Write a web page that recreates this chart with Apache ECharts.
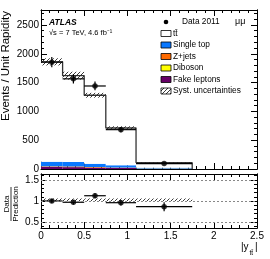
<!DOCTYPE html>
<html><head><meta charset="utf-8">
<script src="https://cdn.jsdelivr.net/npm/echarts@6/dist/echarts.min.js"></script>
<style>html,body{margin:0;padding:0;background:#fff}#c{width:270px;height:259px}</style>
</head><body><div id="c"></div>
<script>
// ---- data ----
const binEdges = [0, 0.25, 0.5, 0.75, 1.1, 1.75];
const dataValues = [1855, 1565, 1441, 683, 94];
const dataErrors = [88, 80, 76, 45, 12];
const ttbar = [1734, 1498, 1190, 647, 86];
const singleTop = [80, 78, 55, 40, 14];
const zJets = [8, 8, 7, 5, 2];
const diboson = [3, 3, 3, 2, 1];
const fakeLeptons = [35, 33, 25, 18, 6];
const systUnc = [62, 68, 42, 30, 8];
const ratioValues = [1.0, 0.97, 1.125, 0.96, 0.865];
const ratioErrors = [0.048, 0.05, 0.06, 0.065, 0.105];
const ratioBandLow = [0.985, 0.985, 0.985, 0.985, 0.985];
const ratioBandHigh = [1.06, 1.06, 1.06, 1.06, 1.06];
const ratioRefLines = [0.5, 1, 1.5];
const xTicks = [0, 0.5, 1, 1.5, 2, 2.5];
const mainYTicks = [0, 500, 1000, 1500, 2000, 2500];
const ratioYTicks = [0.5, 1, 1.5];
const legendLabels = ['Data 2011', 'tt\u0304', 'Single top', 'Z+jets', 'Diboson', 'Fake leptons', 'Syst. uncertainties'];

const FONT = "'Liberation Sans', Arial, Helvetica, sans-serif";
const colors = {fake:'#660066', dib:'#ffff00', zj:'#ff6a00', st:'#0a78ff', tt:'#ffffff'};

// hatch pattern
const pc = document.createElement('canvas'); pc.width = 4; pc.height = 4;
const g = pc.getContext('2d'); g.strokeStyle = '#222'; g.lineWidth = 0.9;
g.beginPath(); g.moveTo(0,4); g.lineTo(4,0); g.moveTo(-1,1); g.lineTo(1,-1); g.moveTo(3,5); g.lineTo(5,3); g.stroke();
const hatch = {image: pc, repeat: 'repeat'};

const nb = dataValues.length;
const bins = [];
for (let i = 0; i < nb; i++) bins.push([binEdges[i], binEdges[i+1], i]);
const total = bins.map((b,i)=> ttbar[i]+singleTop[i]+zJets[i]+diboson[i]+fakeLeptons[i]);

// step outline vertices
const stepPts = [];
for (let i = 0; i < nb; i++) { stepPts.push([binEdges[i], total[i]]); stepPts.push([binEdges[i+1], total[i]]); }
stepPts.push([binEdges[nb], 0]);

const centers = bins.map(b => (b[0]+b[1])/2);

function minorList(lo, hi, step, majors){
  const out=[]; for(let v=lo; v<=hi+1e-9; v+=step){ const r=Math.round(v*1000)/1000; if(!majors.some(m=>Math.abs(m-r)<1e-6)) out.push(r);} return out;
}
const mainYMinor = minorList(100, 2700, 100, mainYTicks);
const ratioYMinor = minorList(0.4, 1.6, 0.1, ratioYTicks);

function stackItem(params, api){
  const lo = api.value(0), hi = api.value(1), i = api.value(2);
  const comps = [[fakeLeptons,colors.fake],[diboson,colors.dib],[zJets,colors.zj],[singleTop,colors.st],[ttbar,colors.tt]];
  let base = 0; const children = [];
  comps.forEach(([arr,col])=>{
    const p0 = api.coord([lo, base]), p1 = api.coord([hi, base+arr[i]]);
    children.push({type:'rect', shape:{x:p0[0], y:p1[1], width:p1[0]-p0[0], height:p0[1]-p1[1]}, style:{fill:col}});
    base += arr[i];
  });
  return {type:'group', children};
}
function bandItem(lowArr, highArr){
  return function(params, api){
    const lo = api.value(0), hi = api.value(1), i = api.value(2);
    const p0 = api.coord([lo, lowArr[i]]), p1 = api.coord([hi, highArr[i]]);
    return {type:'rect', shape:{x:p0[0], y:p1[1], width:p1[0]-p0[0], height:p0[1]-p1[1]}, style:{fill:hatch}};
  };
}
function errItem(vals, errs){
  return function(params, api){
    const lo = api.value(0), hi = api.value(1), i = api.value(2);
    const c = (lo+hi)/2, v = vals[i], e = errs[i];
    const a = api.coord([lo,v]), b = api.coord([hi,v]), t = api.coord([c,v+e]), u = api.coord([c,v-e]);
    const st = {stroke:'#000', lineWidth:1.2};
    return {type:'group', children:[
      {type:'line', shape:{x1:a[0],y1:a[1],x2:b[0],y2:b[1]}, style:st},
      {type:'line', shape:{x1:t[0],y1:t[1],x2:u[0],y2:u[1]}, style:st}]};
  };
}
const mainLow = total.map((t,i)=>t-systUnc[i]);
const mainHigh = total.map((t,i)=>t+systUnc[i]);

function xAx(gridIndex, pos, showLabel){
  return {type:'value', gridIndex, position:pos, min:0, max:2.5, interval:0.5,
    axisLine:{show:true, onZero:false, lineStyle:{color:'#000', width:1}},
    axisTick:{show:true, inside:true, length:6, lineStyle:{color:'#000'}},
    minorTick:{show:true, splitNumber:5, length:3, lineStyle:{color:'#000'}},
    splitLine:{show:false}, minorSplitLine:{show:false},
    axisLabel:{show:showLabel, color:'#000', fontSize:10, fontFamily:FONT, margin:3,
      customValues: xTicks, formatter: v => String(v)}};
}
function yAx(gridIndex, pos, min, max, ticks, showLabel, len){
  return {type:'value', gridIndex, position:pos, min, max,
    axisLine:{show:true, onZero:false, lineStyle:{color:'#000', width:1}},
    axisTick:{show:true, inside:true, length:len, customValues:ticks, lineStyle:{color:'#000'}},
    splitLine:{show:false},
    axisLabel:{show:showLabel, color:'#000', fontSize:10, fontFamily:FONT, margin:2, customValues:ticks, formatter: v => String(v)}};
}

const legendY0 = 22, legendStep = 11.5;
const legendItems = [];
const boxFills = [null, colors.tt, colors.st, colors.zj, colors.dib, colors.fake, hatch];
legendLabels.forEach((lab, k)=>{
  const y = legendY0 + legendStep*k;
  if (k === 0) {
    legendItems.push({type:'circle', shape:{cx:166, cy:y, r:2.3}, style:{fill:'#000'}});
    legendItems.push({type:'text', x:182, y:y, style:{text:lab, font:'8.3px '+FONT, fill:'#000', textVerticalAlign:'middle'}});
  } else {
    legendItems.push({type:'rect', shape:{x:161, y:y-3, width:10, height:6}, style:{fill:boxFills[k], stroke:'#000', lineWidth:0.8}});
    legendItems.push({type:'text', x:173, y:y, style:{text:lab, font:'8.3px '+FONT, fill:'#000', textVerticalAlign:'middle'}});
  }
});

const chart = echarts.init(document.getElementById('c'), null, {renderer:'canvas'});
chart.setOption({
  animation:false,
  backgroundColor:'#fff',
  grid:[{left:41, top:10, width:216, height:159}, {left:41, top:174, width:216, height:54}],
  xAxis:[xAx(0,'bottom',false), xAx(0,'top',false), xAx(1,'bottom',true), xAx(1,'top',false)],
  yAxis:[
    yAx(0,'left',0,2760,mainYTicks,true,6), yAx(0,'left',0,2760,mainYMinor,false,3),
    yAx(0,'right',0,2760,mainYTicks,false,6), yAx(0,'right',0,2760,mainYMinor,false,3),
    yAx(1,'left',0.36,1.64,ratioYTicks,true,6), yAx(1,'left',0.36,1.64,ratioYMinor,false,3),
    yAx(1,'right',0.36,1.64,ratioYTicks,false,6), yAx(1,'right',0.36,1.64,ratioYMinor,false,3)
  ],
  series:[
    {type:'custom', xAxisIndex:0, yAxisIndex:0, renderItem:stackItem, data:bins, clip:true, z:1, silent:true},
    {type:'line', xAxisIndex:0, yAxisIndex:0, data:stepPts, symbol:'none', lineStyle:{color:'#333', width:1.3}, z:2, silent:true},
    {type:'custom', xAxisIndex:0, yAxisIndex:0, renderItem:bandItem(mainLow, mainHigh), data:bins, clip:true, z:3, silent:true},
    {type:'custom', xAxisIndex:0, yAxisIndex:0, renderItem:errItem(dataValues, dataErrors), data:bins, z:4, silent:true},
    {type:'scatter', xAxisIndex:0, yAxisIndex:0, data:centers.map((c,i)=>[c,dataValues[i]]), symbol:'circle', symbolSize:5.5, itemStyle:{color:'#000'}, z:5, silent:true},

    {type:'line', xAxisIndex:2, yAxisIndex:4, data:[], symbol:'none', silent:true,
      markLine:{silent:true, symbol:'none', label:{show:false}, lineStyle:{color:'#888', type:[2,2], width:1},
        data: ratioRefLines.map(v=>({yAxis:v}))}},
    {type:'custom', xAxisIndex:2, yAxisIndex:4, renderItem:bandItem(ratioBandLow, ratioBandHigh), data:bins, clip:true, z:3, silent:true},
    {type:'custom', xAxisIndex:2, yAxisIndex:4, renderItem:errItem(ratioValues, ratioErrors), data:bins, z:4, silent:true},
    {type:'scatter', xAxisIndex:2, yAxisIndex:4, data:centers.map((c,i)=>[c,ratioValues[i]]), symbol:'circle', symbolSize:5.5, itemStyle:{color:'#000'}, z:5, silent:true}
  ],
  graphic:[
    {type:'text', x:49, y:23, style:{text:'ATLAS', font:'italic bold 8.5px '+FONT, fill:'#000', textVerticalAlign:'middle'}},
    {type:'text', x:49, y:33, style:{text:'\u221As = 7 TeV, 4.6 fb\u207B\u00B9', font:'7.5px '+FONT, fill:'#000', textVerticalAlign:'middle'}},
    {type:'text', x:235, y:22, style:{text:'\u03BC\u03BC', font:'9px '+FONT, fill:'#000', textVerticalAlign:'middle'}},
    {type:'text', x:6, y:66, rotation:Math.PI/2, style:{text:'Events / Unit Rapidity', font:'11.5px '+FONT, fill:'#000', textAlign:'center', textVerticalAlign:'middle'}},
    {type:'text', x:7, y:204, rotation:Math.PI/2, style:{text:'Data', font:'8px '+FONT, fill:'#000', textAlign:'center', textVerticalAlign:'middle'}},
    {type:'line', shape:{x1:11, y1:187, x2:11, y2:221}, style:{stroke:'#000', lineWidth:0.8}},
    {type:'text', x:15.5, y:204, rotation:Math.PI/2, style:{text:'Prediction', font:'8px '+FONT, fill:'#000', textAlign:'center', textVerticalAlign:'middle'}},
    {type:'text', x:241, y:247, style:{text:'|y', font:'10px '+FONT, fill:'#000', textVerticalAlign:'middle'}},
    {type:'text', x:249.5, y:253, style:{text:'tt\u0304', font:'6.5px '+FONT, fill:'#000', textVerticalAlign:'middle'}},
    {type:'text', x:255, y:247, style:{text:'|', font:'10px '+FONT, fill:'#000', textVerticalAlign:'middle'}},
    ...legendItems
  ]
});
</script>
</body></html>
